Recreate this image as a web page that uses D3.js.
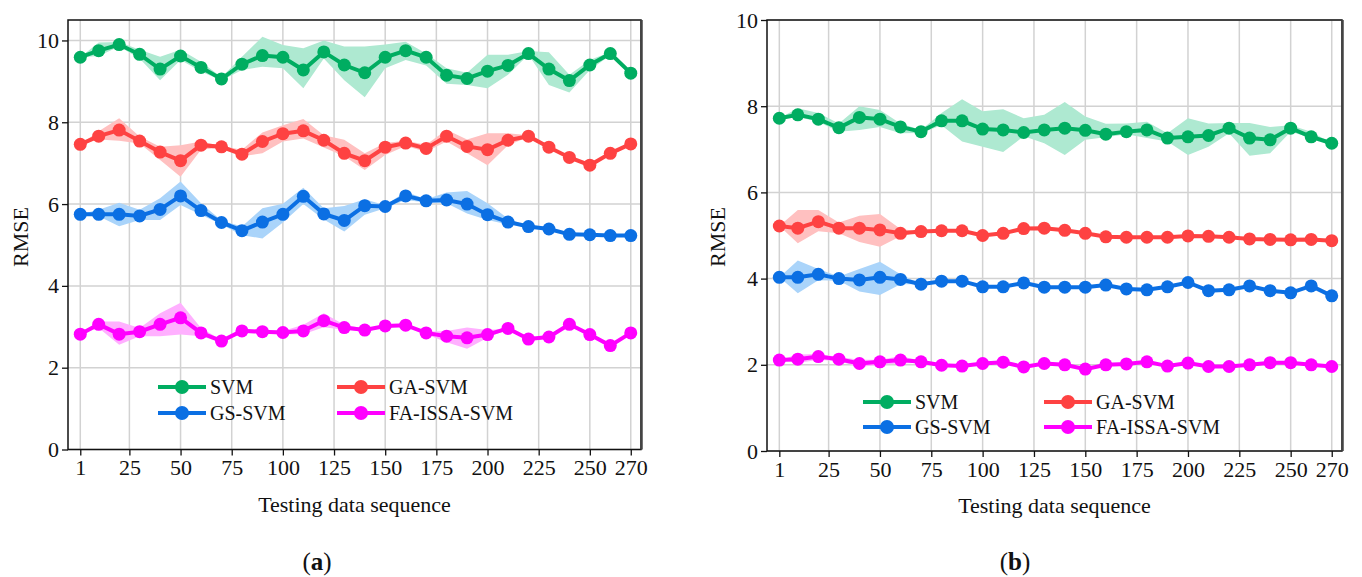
<!DOCTYPE html>
<html>
<head>
<meta charset="utf-8">
<script src="https://cdn.jsdelivr.net/npm/d3@7"></script>
<style>
    body { margin: 0; background: #fff; }
    svg text { font-family: "Liberation Serif", "Times New Roman", serif; fill: #111; }
</style>
</head>
<body>
<div id="chart"></div>
<script>
const seq = [1, 10, 20, 30, 40, 50, 60, 70, 80, 90, 100, 110, 120, 130, 140, 150, 160, 170, 180, 190, 200, 210, 220, 230, 240, 250, 260, 270]
const xTicks = [1, 25, 50, 75, 100, 125, 150, 175, 200, 225, 250, 270]
const yTicks = [0, 2, 4, 6, 8, 10]
const seriesNames = ["SVM", "GA-SVM", "GS-SVM", "FA-ISSA-SVM"]

// panel (a)
const svmA = [9.59, 9.75, 9.9, 9.66, 9.3, 9.62, 9.34, 9.06, 9.42, 9.63, 9.59, 9.28, 9.72, 9.4, 9.21, 9.59, 9.75, 9.59, 9.15, 9.07, 9.25, 9.39, 9.68, 9.3, 9.02, 9.4, 9.68, 9.2]
const svmAUp = [9.59, 9.95, 9.96, 9.77, 9.6, 9.77, 9.48, 9.1, 9.6, 10.09, 9.89, 9.81, 10.0, 9.85, 9.85, 9.9, 9.97, 9.68, 9.32, 9.21, 9.65, 9.65, 9.74, 9.71, 9.16, 9.52, 9.72, 9.2]
const svmALo = [9.59, 9.62, 9.85, 9.56, 9.03, 9.52, 9.24, 9.02, 9.28, 9.36, 9.32, 8.83, 9.56, 9.03, 8.61, 9.32, 9.52, 9.39, 8.94, 8.91, 8.83, 9.16, 9.65, 8.91, 8.73, 9.28, 9.64, 9.2]
const gaA = [7.46, 7.66, 7.81, 7.54, 7.27, 7.06, 7.44, 7.4, 7.22, 7.53, 7.72, 7.79, 7.56, 7.24, 7.06, 7.39, 7.49, 7.36, 7.66, 7.41, 7.33, 7.56, 7.66, 7.39, 7.14, 6.95, 7.24, 7.47]
const gaAUp = [7.46, 7.78, 8.1, 7.65, 7.4, 7.44, 7.53, 7.42, 7.33, 7.75, 7.93, 8.08, 7.68, 7.57, 7.24, 7.49, 7.55, 7.45, 7.82, 7.58, 7.73, 7.73, 7.68, 7.39, 7.14, 6.95, 7.24, 7.47]
const gaALo = [7.46, 7.58, 7.55, 7.48, 7.08, 6.67, 7.33, 7.38, 7.17, 7.24, 7.53, 7.6, 7.38, 7.17, 6.83, 7.2, 7.42, 7.28, 7.53, 7.24, 6.95, 7.44, 7.64, 7.39, 7.14, 6.95, 7.24, 7.47]
const gsA = [5.75, 5.75, 5.75, 5.71, 5.87, 6.2, 5.84, 5.55, 5.35, 5.56, 5.75, 6.19, 5.76, 5.6, 5.96, 5.94, 6.2, 6.08, 6.1, 6.0, 5.74, 5.56, 5.45, 5.39, 5.26, 5.25, 5.23, 5.23]
const gsAUp = [5.75, 5.86, 6.03, 5.86, 6.14, 6.55, 6.02, 5.6, 5.45, 5.9, 6.01, 6.4, 5.9, 5.95, 6.12, 5.97, 6.3, 6.12, 6.28, 6.32, 6.02, 5.65, 5.45, 5.39, 5.26, 5.25, 5.23, 5.23]
const gsALo = [5.75, 5.7, 5.46, 5.61, 5.61, 5.98, 5.74, 5.5, 5.24, 5.16, 5.55, 6.0, 5.62, 5.33, 5.74, 5.9, 6.1, 6.04, 6.02, 5.77, 5.61, 5.5, 5.45, 5.39, 5.26, 5.25, 5.23, 5.23]
const faA = [2.82, 3.06, 2.82, 2.88, 3.06, 3.22, 2.85, 2.65, 2.9, 2.88, 2.86, 2.9, 3.15, 2.98, 2.92, 3.02, 3.04, 2.85, 2.77, 2.73, 2.81, 2.96, 2.7, 2.75, 3.06, 2.81, 2.54, 2.85]
const faAUp = [2.82, 3.13, 3.13, 2.97, 3.33, 3.59, 2.97, 2.68, 2.95, 2.92, 2.9, 3.05, 3.33, 3.05, 2.95, 3.05, 3.07, 2.88, 2.9, 2.98, 2.92, 2.96, 2.7, 2.75, 3.06, 2.81, 2.54, 2.85]
const faALo = [2.82, 2.97, 2.56, 2.77, 2.77, 2.81, 2.77, 2.62, 2.85, 2.83, 2.82, 2.82, 2.99, 2.93, 2.88, 2.99, 3.0, 2.82, 2.62, 2.46, 2.73, 2.94, 2.7, 2.75, 3.06, 2.81, 2.54, 2.85]

// panel (b)
const svmB = [7.72, 7.8, 7.7, 7.5, 7.74, 7.7, 7.52, 7.41, 7.66, 7.66, 7.47, 7.45, 7.39, 7.45, 7.49, 7.44, 7.35, 7.41, 7.45, 7.26, 7.29, 7.32, 7.49, 7.26, 7.22, 7.49, 7.29, 7.14]
const svmBUp = [7.72, 7.95, 7.84, 7.6, 8.0, 7.91, 7.6, 7.45, 7.84, 8.16, 7.88, 7.93, 7.72, 7.8, 8.1, 7.76, 7.59, 7.6, 7.64, 7.37, 7.72, 7.6, 7.61, 7.61, 7.52, 7.56, 7.41, 7.14]
const svmBLo = [7.72, 7.75, 7.64, 7.41, 7.45, 7.52, 7.37, 7.38, 7.56, 7.18, 7.06, 6.94, 7.3, 7.14, 6.87, 7.22, 7.28, 7.35, 7.26, 7.18, 6.87, 7.06, 7.37, 6.85, 6.91, 7.41, 7.26, 7.14]
const gaB = [5.22, 5.17, 5.32, 5.17, 5.17, 5.13, 5.05, 5.09, 5.11, 5.11, 5.0, 5.05, 5.16, 5.17, 5.12, 5.05, 4.97, 4.96, 4.96, 4.96, 4.99, 4.98, 4.96, 4.92, 4.91, 4.9, 4.91, 4.88]
const gaBUp = [5.22, 5.59, 5.59, 5.3, 5.46, 5.5, 5.15, 5.09, 5.11, 5.11, 5.0, 5.05, 5.16, 5.17, 5.12, 5.05, 4.97, 4.96, 4.96, 4.96, 4.99, 4.98, 4.96, 4.92, 4.91, 4.9, 4.91, 4.88]
const gaBLo = [5.22, 4.82, 5.1, 5.05, 4.85, 4.74, 4.98, 5.09, 5.11, 5.11, 5.0, 5.05, 5.16, 5.17, 5.12, 5.05, 4.97, 4.96, 4.96, 4.96, 4.99, 4.98, 4.96, 4.92, 4.91, 4.9, 4.91, 4.88]
const gsB = [4.03, 4.03, 4.1, 4.0, 3.97, 4.03, 3.98, 3.87, 3.94, 3.94, 3.81, 3.81, 3.9, 3.8, 3.8, 3.8, 3.85, 3.76, 3.74, 3.81, 3.91, 3.72, 3.74, 3.83, 3.72, 3.67, 3.83, 3.6]
const gsBUp = [4.03, 4.42, 4.22, 4.05, 4.22, 4.39, 4.1, 3.87, 3.94, 3.94, 3.81, 3.81, 3.9, 3.8, 3.8, 3.8, 3.85, 3.76, 3.74, 3.81, 3.91, 3.72, 3.74, 3.83, 3.72, 3.67, 3.83, 3.6]
const gsBLo = [4.03, 3.66, 3.96, 3.95, 3.7, 3.62, 3.87, 3.87, 3.94, 3.94, 3.81, 3.81, 3.9, 3.8, 3.8, 3.8, 3.85, 3.76, 3.74, 3.81, 3.91, 3.72, 3.74, 3.83, 3.72, 3.67, 3.83, 3.6]
const faB = [2.11, 2.13, 2.19, 2.13, 2.03, 2.07, 2.11, 2.07, 1.99, 1.97, 2.03, 2.06, 1.95, 2.03, 2.0, 1.9, 2.0, 2.02, 2.07, 1.97, 2.04, 1.96, 1.96, 2.0, 2.05, 2.05, 2.0, 1.96]
const faBUp = [2.11, 2.24, 2.25, 2.18, 2.12, 2.12, 2.2, 2.1, 1.99, 1.97, 2.03, 2.06, 1.95, 2.03, 2.0, 1.9, 2.0, 2.02, 2.07, 1.97, 2.04, 1.96, 1.96, 2.0, 2.05, 2.05, 2.0, 1.96]
const faBLo = [2.11, 2.04, 2.12, 2.08, 1.95, 2.0, 2.03, 2.05, 1.99, 1.97, 2.03, 2.06, 1.95, 2.03, 2.0, 1.9, 2.0, 2.02, 2.07, 1.97, 2.04, 1.96, 1.96, 2.0, 2.05, 2.05, 2.0, 1.96]

const lineColours = ["#00ad61", "#fe4242", "#0b6fe3", "#ff00ff"]
const bandColours = ["#aee9d1", "#ffc0c0", "#aad4fa", "#ffb0ff"]

const svg = d3.select("#chart")
    .append("svg")
    .attr("width", 1362)
    .attr("height", 577)

svg.append("rect").attr("width", 1362).attr("height", 577).attr("fill", "#fff")

function drawPanel(p) {
    const x = d3.scaleLinear().domain([-5, 275]).range([p.left, p.right])
    const y = d3.scaleLinear().domain([0, p.yMax]).range([p.bottom, p.top])
    const g = svg.append("g")

    // grid
    g.append("g")
        .selectAll("line")
        .data(xTicks)
        .enter()
        .append("line")
        .attr("x1", (d) => x(d))
        .attr("x2", (d) => x(d))
        .attr("y1", p.top)
        .attr("y2", p.bottom)
        .attr("stroke", "#d2d2d2")
        .attr("stroke-width", 1.5)
    g.append("g")
        .selectAll("line")
        .data(yTicks)
        .enter()
        .append("line")
        .attr("x1", p.left)
        .attr("x2", p.right)
        .attr("y1", (d) => y(d))
        .attr("y2", (d) => y(d))
        .attr("stroke", "#d2d2d2")
        .attr("stroke-width", 1.5)

    const area = d3.area()
        .x((d) => x(d.x))
        .y0((d) => y(d.lo))
        .y1((d) => y(d.hi))
    const line = d3.line()
        .x((d) => x(d.x))
        .y((d) => y(d.v))

    const rows = p.series.map((s) =>
        seq.map((sx, i) => ({ x: sx, v: s.v[i], hi: s.hi[i], lo: s.lo[i] })),
    )

    rows.forEach((r, k) => {
        g.append("path")
            .datum(r)
            .attr("d", area)
            .attr("fill", bandColours[k])
    })

    rows.forEach((r, k) => {
        g.append("path")
            .datum(r)
            .attr("d", line)
            .attr("fill", "none")
            .attr("stroke", lineColours[k])
            .attr("stroke-width", 4)
        g.append("g")
            .selectAll("circle")
            .data(r)
            .enter()
            .append("circle")
            .attr("cx", (d) => x(d.x))
            .attr("cy", (d) => y(d.v))
            .attr("r", 6.5)
            .attr("fill", lineColours[k])
    })

    // frame
    g.append("rect")
        .attr("x", p.left)
        .attr("y", p.top)
        .attr("width", p.right - p.left)
        .attr("height", p.bottom - p.top)
        .attr("fill", "none")
        .attr("stroke", "#111")
        .attr("stroke-width", 1.5)
    g.append("line")
        .attr("x1", p.right + 0.5)
        .attr("x2", p.right + 0.5)
        .attr("y1", p.top)
        .attr("y2", p.bottom)
        .attr("stroke", "#444")
        .attr("stroke-width", 2.5)

    const xAxis = g.append("g")
        .attr("transform", "translate(0," + p.bottom + ")")
        .call(d3.axisBottom(x).tickValues(xTicks).tickSize(6).tickPadding(4))
    const yAxis = g.append("g")
        .attr("transform", "translate(" + p.left + ",0)")
        .call(d3.axisLeft(y).tickValues(yTicks).tickSize(6).tickPadding(3))
    ;[xAxis, yAxis].forEach((a) => {
        a.select(".domain").remove()
        a.selectAll(".tick line").attr("stroke", "#111").attr("stroke-width", 1.3)
        a.selectAll(".tick text")
            .style("font-family", "Liberation Serif, serif")
            .style("font-size", "22px")
            .attr("fill", "#111")
    })

    g.append("text")
        .attr("transform", "translate(" + p.yLabelX + "," + p.yLabelY + ") rotate(-90)")
        .attr("text-anchor", "middle")
        .attr("dy", "0.35em")
        .style("font-size", "22px")
        .text("RMSE")

    g.append("text")
        .attr("x", (p.left + p.right) / 2)
        .attr("y", p.bottom + 62)
        .attr("text-anchor", "middle")
        .style("font-size", "22px")
        .text("Testing data sequence")

    const cap = g.append("text")
        .attr("x", p.capX)
        .attr("y", 570)
        .attr("text-anchor", "middle")
        .style("font-size", "25px")
    cap.append("tspan").text("(")
    cap.append("tspan").style("font-weight", "bold").text(p.cap)
    cap.append("tspan").text(")")

    // legend
    const legend = g.append("g")
    seriesNames.forEach((name, k) => {
        const lx = p.legX[k % 2]
        const ly = p.legY[Math.floor(k / 2)]
        legend.append("line")
            .attr("x1", lx)
            .attr("x2", lx + 48)
            .attr("y1", ly)
            .attr("y2", ly)
            .attr("stroke", lineColours[k])
            .attr("stroke-width", 4)
        legend.append("circle")
            .attr("cx", lx + 24)
            .attr("cy", ly)
            .attr("r", 7)
            .attr("fill", lineColours[k])
        legend.append("text")
            .attr("x", lx + 52)
            .attr("y", ly)
            .attr("dy", "0.35em")
            .style("font-size", "20px")
            .text(name)
    })
}

drawPanel({
    left: 68, right: 641, top: 20, bottom: 449.5, yMax: 10.5,
    yLabelX: 20, yLabelY: 237, capX: 317, cap: "a",
    legX: [158, 337], legY: [387, 413],
    series: [
        { v: svmA, hi: svmAUp, lo: svmALo },
        { v: gaA, hi: gaAUp, lo: gaALo },
        { v: gsA, hi: gsAUp, lo: gsALo },
        { v: faA, hi: faAUp, lo: faALo },
    ],
})

drawPanel({
    left: 767, right: 1342, top: 20, bottom: 451, yMax: 10,
    yLabelX: 717, yLabelY: 237, capX: 1015, cap: "b",
    legX: [863, 1044], legY: [402, 427],
    series: [
        { v: svmB, hi: svmBUp, lo: svmBLo },
        { v: gaB, hi: gaBUp, lo: gaBLo },
        { v: gsB, hi: gsBUp, lo: gsBLo },
        { v: faB, hi: faBUp, lo: faBLo },
    ],
})
</script>
</body>
</html>
